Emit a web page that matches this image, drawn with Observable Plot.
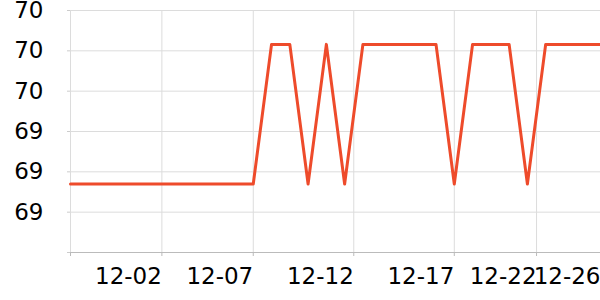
<!DOCTYPE html>
<html><head><meta charset="utf-8">
<script src="https://cdn.jsdelivr.net/npm/d3@7"></script>
<script src="https://cdn.jsdelivr.net/npm/@observablehq/plot@0.6"></script>
<style>body{margin:0;background:#fff} svg{display:block}</style>
</head><body><div id="chart"></div>
<script>
// series values, one per sample (equally spaced)
const values = [
  69.27, 69.27, 69.27, 69.27, 69.27, 69.27, 69.27, 69.27, 69.27, 69.27, 69.27,
  69.616, 69.616, 69.27, 69.616, 69.27,
  69.616, 69.616, 69.616, 69.616, 69.616, 69.27,
  69.616, 69.616, 69.616, 69.27,
  69.616, 69.616, 69.616, 69.616
];
// x tick positions (sample index) and labels
const xTicks = [0, 5, 10, 15.5, 21, 25.5, 29];
const xLabels = ["", "12-02", "12-07", "12-12", "12-17", "12-22", "12-26"];
// y tick values and labels
const yTicks = [69.1, 69.2, 69.3, 69.4, 69.5, 69.6, 69.7];
const yLabels = ["", "69", "69", "69", "70", "70", "70"];

const chart = Plot.plot({
  width: 600, height: 300,
  marginLeft: 70, marginRight: 0, marginTop: 10, marginBottom: 48,
  style: {fontFamily: "DejaVu Sans", fontSize: "23px", color: "#000", background: "#fff"},
  x: {type: "linear", domain: [0, 29]},
  y: {domain: [69.1, 69.7]},
  marks: [
    Plot.gridY(yTicks.slice(1), {stroke: "#dcdcdc", strokeOpacity: 1}),
    Plot.gridX(xTicks.slice(0, -1), {stroke: "#dcdcdc", strokeOpacity: 1}),
    Plot.ruleY([yTicks[0]], {stroke: "#bbb"}),
    Plot.axisY(yTicks, {tickFormat: d => yLabels[yTicks.indexOf(d)], tickSize: 3, tickPadding: 24, stroke: "#ccc", fill: "#000", label: null}),
    Plot.axisX(xTicks, {tickFormat: d => xLabels[xTicks.indexOf(d)], textAnchor: "end", tickSize: 4, tickPadding: 11, stroke: "#bbb", fill: "#000", label: null}),
    Plot.lineY(values, {x: (d, i) => i, y: d => d, stroke: "#ee4b2b", strokeWidth: 3})
  ]
});
document.getElementById("chart").append(chart);
</script>
</body></html>
